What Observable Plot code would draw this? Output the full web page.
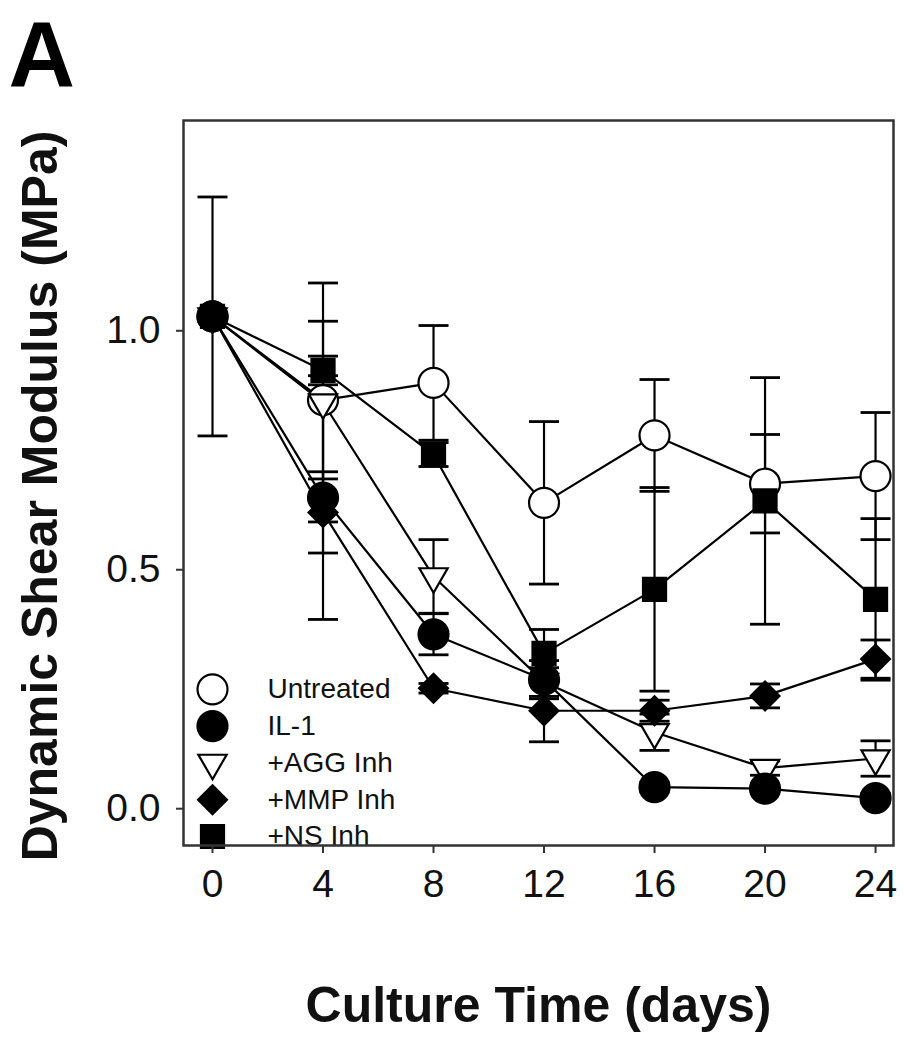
<!DOCTYPE html>
<html>
<head>
<meta charset="utf-8">
<script src="https://cdn.jsdelivr.net/npm/d3@7"></script>
<script src="https://cdn.jsdelivr.net/npm/@observablehq/plot@0.6"></script>
<style>
  html, body { margin: 0; padding: 0; background: #fff; }
  #chart svg { display: block; }
</style>
</head>
<body>
<div id="chart"></div>
<script>
// ---- data ----
const days = [0, 4, 8, 12, 16, 20, 24];
const seriesNames = ["Untreated", "IL-1", "+AGG Inh", "+MMP Inh", "+NS Inh"];
const untreated    = [1.03, 0.855, 0.891, 0.64, 0.781, 0.68, 0.696];
const untreatedErr = [0.25, 0.165, 0.12, 0.17, 0.117, 0.103, 0.133];
const il1          = [1.03, 0.651, 0.365, 0.27, 0.045, 0.042, 0.022];
const il1Err       = [0, 0.255, 0.043, 0.04, 0.01, 0.01, 0.01];
const agg          = [1.03, 0.85, 0.486, 0.265, 0.16, 0.085, 0.105];
const aggErr       = [0, 0.25, 0.077, 0.03, 0.038, 0.015, 0.037];
const mmp          = [1.03, 0.62, 0.252, 0.205, 0.205, 0.236, 0.313];
const mmpErr       = [0, 0.085, 0.01, 0.065, 0.022, 0.025, 0.04];
const ns           = [1.03, 0.917, 0.741, 0.325, 0.459, 0.644, 0.438];
const nsErr        = [0, 0.03, 0.025, 0.05, 0.213, 0.258, 0.169];
const yTicks = [0.0, 0.5, 1.0];
const xTitle = "Culture Time (days)";
const yTitle = "Dynamic Shear Modulus (MPa)";
const panelLabel = "A";

// ---- build table ----
const values = [untreated, il1, agg, mmp, ns];
const errs = [untreatedErr, il1Err, aggErr, mmpErr, nsErr];
const rows = [];
seriesNames.forEach((s, i) => days.forEach((d, j) => rows.push({series: s, si: i, day: d, v: values[i][j], e: errs[i][j]})));
const errRows = rows.filter(r => r.e > 0);

// marker styles
const styles = {
  "Untreated": {symbol: "circle", r: 15, fill: "white", rotate: 0},
  "IL-1":      {symbol: "circle", r: 15, fill: "black", rotate: 0},
  "+AGG Inh":  {symbol: "triangle", r: 10.5, fill: "white", rotate: 180},
  "+MMP Inh":  {symbol: "diamond2", r: 13, fill: "black", rotate: 0},
  "+NS Inh":   {symbol: "square", r: 13, fill: "black", rotate: 0}
};
const drawOrder = ["Untreated", "+AGG Inh", "IL-1", "+MMP Inh", "+NS Inh"];
const capSymbol = { draw(ctx, size) { ctx.moveTo(-15, 0); ctx.lineTo(15, 0); } };
const font = "'Liberation Sans', Arial, Helvetica, sans-serif";

const marks = [];
// lines
marks.push(Plot.line(rows, {x: "day", y: "v", z: "series", stroke: "black", strokeWidth: 2.2}));
// error bars
marks.push(Plot.ruleX(errRows, {x: "day", y1: d => d.v - d.e, y2: d => d.v + d.e, stroke: "black", strokeWidth: 2.2}));
marks.push(Plot.dot(errRows, {x: "day", y: d => d.v + d.e, symbol: capSymbol, fill: "none", stroke: "black", strokeWidth: 2.8}));
marks.push(Plot.dot(errRows, {x: "day", y: d => d.v - d.e, symbol: capSymbol, fill: "none", stroke: "black", strokeWidth: 2.8}));
// markers
drawOrder.forEach(s => {
  const st = styles[s];
  marks.push(Plot.dot(rows.filter(r => r.series === s), {x: "day", y: "v", symbol: st.symbol, r: st.r, fill: st.fill, stroke: "black", strokeWidth: 2.2, rotate: st.rotate}));
});
// legend
seriesNames.forEach((s, i) => {
  const st = styles[s];
  const dy = -9 - 36.8 * (seriesNames.length - 1 - i);
  marks.push(Plot.dot([s], {frameAnchor: "bottom-left", dx: 29, dy, symbol: st.symbol, r: st.r, fill: st.fill, stroke: "black", strokeWidth: 2.2, rotate: st.rotate}));
  marks.push(Plot.text([s], {frameAnchor: "bottom-left", dx: 84, dy, text: d => d, textAnchor: "start", lineAnchor: "middle", fontSize: 28, fill: "#111"}));
});
// axes
marks.push(Plot.axisX({ticks: days, tickSize: 8, tickPadding: 16, fontSize: 39, label: null, stroke: "#333", strokeWidth: 2, tickFormat: d => String(d)}));
marks.push(Plot.axisY({ticks: yTicks, tickSize: 7, tickPadding: 16, fontSize: 39, label: null, stroke: "#333", strokeWidth: 2, tickFormat: d3.format(".1f")}));
marks.push(Plot.frame({stroke: "#333", strokeWidth: 2.5}));
// titles
marks.push(Plot.text([xTitle], {frameAnchor: "bottom", dy: 160, text: d => d, textAnchor: "middle", lineAnchor: "middle", fontSize: 50, fontWeight: "bold", fill: "#111"}));
marks.push(Plot.text([yTitle], {frameAnchor: "left", dx: -143, dy: 13, rotate: -90, text: d => d, textAnchor: "middle", lineAnchor: "middle", fontSize: 50, fontWeight: "bold", fill: "#111"}));
marks.push(Plot.text([panelLabel], {frameAnchor: "top-left", dx: -175, dy: -100, text: d => d, textAnchor: "start", lineAnchor: "top", fontSize: 92, fontWeight: "bold", fill: "#000"}));

const chart = Plot.plot({
  width: 908,
  height: 1050,
  marginLeft: 183,
  marginRight: 15,
  marginTop: 120,
  marginBottom: 205,
  style: {fontFamily: font, background: "white", color: "#111"},
  x: {domain: [-1.05, 24.65]},
  y: {domain: [-0.077, 1.44]},
  marks
});
document.getElementById("chart").appendChild(chart);
</script>
</body>
</html>
